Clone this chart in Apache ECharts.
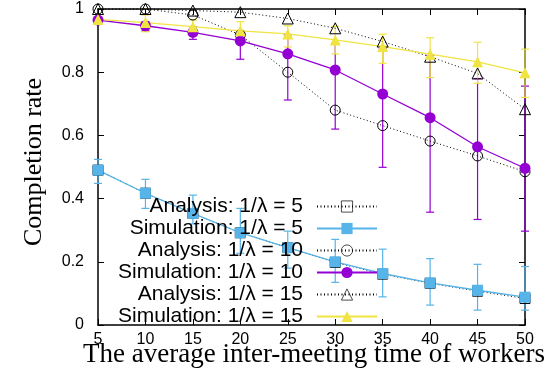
<!DOCTYPE html>
<html>
<head>
<meta charset="utf-8">
<script src="https://cdn.jsdelivr.net/npm/echarts/dist/echarts.min.js"></script>
<style>
  html, body { margin: 0; padding: 0; background: #fff; }
  #chart { width: 558px; height: 381px; }
</style>
</head>
<body>
<div id="chart"></div>
<script>
// inter-meeting time (x)
const xs = [5, 10, 15, 20, 25, 30, 35, 40, 45, 50]
const yTicks = [0, 0.2, 0.4, 0.6, 0.8, 1]

// 1/lambda = 5
const ana5 = [0.49, 0.417, 0.353, 0.292, 0.245, 0.198, 0.161, 0.132, 0.107, 0.084]
const sim5 = [0.49, 0.417, 0.353, 0.292, 0.245, 0.2, 0.163, 0.133, 0.11, 0.088]
const sim5Low = [0.448, 0.369, 0.32, 0.227, 0.18, 0.135, 0.089, 0.063, 0.047, 0.047]
const sim5High = [0.524, 0.461, 0.411, 0.369, 0.297, 0.271, 0.24, 0.21, 0.192, 0.185]

// 1/lambda = 10
const ana10 = [1.0, 1.0, 0.981, 0.918, 0.8, 0.68, 0.631, 0.582, 0.535, 0.485]
const sim10 = [0.965, 0.947, 0.926, 0.899, 0.858, 0.807, 0.731, 0.656, 0.564, 0.496]
const sim10Low = [0.955, 0.931, 0.904, 0.841, 0.712, 0.62, 0.499, 0.357, 0.334, 0.297]
const sim10High = [0.972, 0.96, 0.944, 0.923, 0.918, 0.892, 0.875, 0.853, 0.78, 0.756]

// 1/lambda = 15
const ana15 = [1.0, 1.0, 0.995, 0.99, 0.97, 0.939, 0.897, 0.849, 0.796, 0.683]
const sim15 = [0.967, 0.957, 0.944, 0.931, 0.921, 0.902, 0.881, 0.857, 0.833, 0.798]
const sim15Low = [0.96, 0.928, 0.918, 0.897, 0.88, 0.858, 0.828, 0.783, 0.765, 0.72]
const sim15High = [0.975, 0.981, 0.965, 0.96, 0.947, 0.945, 0.92, 0.909, 0.895, 0.873]

const names = [
  'Analysis: 1/λ = 5',
  'Simulation: 1/λ = 5',
  'Analysis: 1/λ = 10',
  'Simulation: 1/λ = 10',
  'Analysis: 1/λ = 15',
  'Simulation: 1/λ = 15'
]

const colors = {
  purple: '#9400d3',
  blue: '#56b4e9',
  yellow: '#f0e442'
}

const chart = echarts.init(document.getElementById('chart'))

const pairs = arr => xs.map((x, i) => [x, arr[i]])

function errSeries(name, low, high, color) {
  return {
    type: 'custom',
    name: name,
    silent: true,
    data: xs.map((x, i) => [x, low[i], high[i]]),
    encode: { x: 0, y: [1, 2] },
    renderItem(params, api) {
      const x = api.value(0)
      const lo = api.coord([x, api.value(1)])
      const hi = api.coord([x, api.value(2)])
      const w = 4
      const style = { stroke: color, lineWidth: 1.2 }
      return {
        type: 'group',
        children: [
          { type: 'line', shape: { x1: lo[0], y1: lo[1], x2: hi[0], y2: hi[1] }, style },
          { type: 'line', shape: { x1: lo[0] - w, y1: lo[1], x2: lo[0] + w, y2: lo[1] }, style },
          { type: 'line', shape: { x1: hi[0] - w, y1: hi[1], x2: hi[0] + w, y2: hi[1] }, style }
        ]
      }
    }
  }
}

function anaSeries(name, data, symbol) {
  return {
    type: 'line',
    name: name,
    data: pairs(data),
    symbol: symbol,
    symbolSize: symbol === 'triangle' ? 11 : 10,
    showSymbol: true,
    lineStyle: { color: '#000', width: 1, type: [1, 2.5] },
    itemStyle: { color: 'transparent', borderColor: '#000', borderWidth: 1 }
  }
}

function simSeries(name, data, symbol, color) {
  return {
    type: 'line',
    name: name,
    data: pairs(data),
    symbol: symbol,
    symbolSize: 11,
    showSymbol: true,
    lineStyle: { color: color, width: 1.3 },
    itemStyle: { color: color, borderWidth: 0 }
  }
}

const axisLine = { show: true, onZero: false, lineStyle: { color: '#000', width: 1.5 } }
const axisTick = { show: true, inside: true, length: 6, lineStyle: { color: '#000', width: 1 } }
const labelFont = { fontFamily: 'Liberation Sans', fontSize: 16, color: '#000' }

const option = {
  animation: false,
  backgroundColor: '#fff',
  grid: { left: 98, right: 33, top: 9, bottom: 56, outerBoundsMode: 'none' },
  xAxis: [
    {
      type: 'value', min: 5, max: 50, interval: 5, position: 'bottom',
      axisLine, axisTick, splitLine: { show: false },
      axisLabel: Object.assign({ margin: 7 }, labelFont)
    },
    {
      type: 'value', min: 5, max: 50, interval: 5, position: 'top',
      axisLine, axisTick, splitLine: { show: false }, axisLabel: { show: false }
    }
  ],
  yAxis: [
    {
      type: 'value', min: 0, max: 1, interval: 0.2, position: 'left',
      axisLine, axisTick, splitLine: { show: false },
      axisLabel: Object.assign({
        margin: 14,
        formatter: v => yTicks.includes(+v.toFixed(1)) ? String(+v.toFixed(1)) : ''
      }, labelFont)
    },
    {
      type: 'value', min: 0, max: 1, interval: 0.2, position: 'right',
      axisLine, axisTick, splitLine: { show: false }, axisLabel: { show: false }
    }
  ],
  legend: {
    data: names,
    orient: 'vertical',
    align: 'right',
    right: 180,
    top: 196,
    padding: 0,
    itemWidth: 60,
    itemHeight: 14,
    itemGap: 1,
    selectedMode: false,
    itemStyle: { borderWidth: 0.7 },
    textStyle: {
      fontFamily: 'Liberation Sans', fontSize: 21, color: '#000',
      lineHeight: 20, padding: [0, 9, 0, 0]
    }
  },
  graphic: [
    {
      type: 'text', x: 314, y: 355,
      style: {
        text: 'The average inter-meeting time of workers',
        fontFamily: 'Liberation Serif', fontSize: 27, fill: '#000',
        align: 'center', verticalAlign: 'middle'
      }
    },
    {
      type: 'text', x: 34, y: 162, rotation: Math.PI / 2,
      style: {
        text: 'Completion rate',
        fontFamily: 'Liberation Serif', fontSize: 26, fill: '#000',
        align: 'center', verticalAlign: 'middle'
      }
    }
  ],
  series: [
    anaSeries(names[0], ana5, 'rect'),
    errSeries('err5', sim5Low, sim5High, colors.blue),
    simSeries(names[1], sim5, 'rect', colors.blue),
    anaSeries(names[2], ana10, 'circle'),
    errSeries('err10', sim10Low, sim10High, colors.purple),
    simSeries(names[3], sim10, 'circle', colors.purple),
    anaSeries(names[4], ana15, 'triangle'),
    errSeries('err15', sim15Low, sim15High, colors.yellow),
    simSeries(names[5], sim15, 'triangle', colors.yellow)
  ]
}

chart.setOption(option)
</script>
</body>
</html>
